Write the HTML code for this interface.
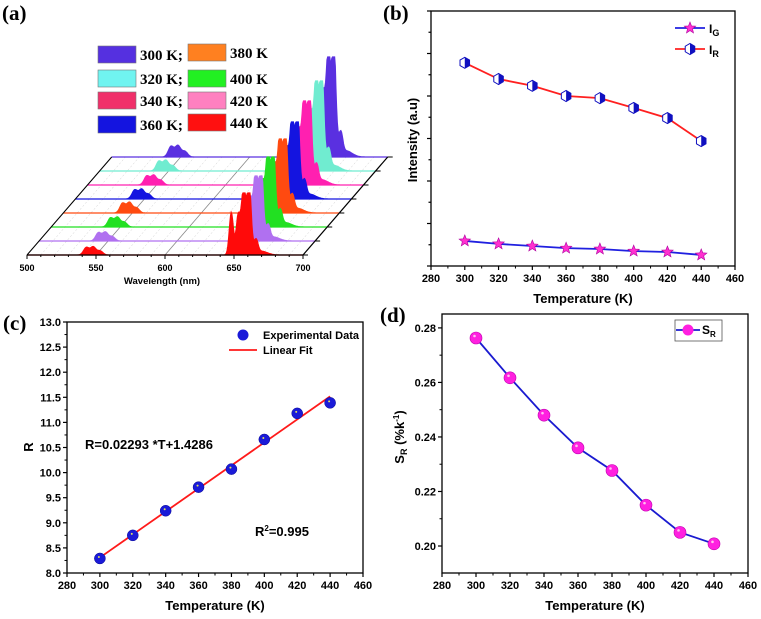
<!DOCTYPE html>
<html><head><meta charset="utf-8"><style>
html,body{margin:0;padding:0;background:#fff}
svg{display:block;font-family:"Liberation Sans",sans-serif}
.tk{font-size:11px;font-weight:bold}
.ttl{font-size:13px;font-weight:bold}
.pl{font-family:"Liberation Serif",serif;font-size:21px;font-weight:bold}
.lg{font-family:"Liberation Serif",serif;font-size:15px;font-weight:bold}
</style></head><body>
<svg id="fig" width="761" height="619" viewBox="0 0 761 619" xmlns="http://www.w3.org/2000/svg">
<text class="pl" x="2" y="20">(a)</text>
<text class="pl" x="383" y="20">(b)</text>
<text class="pl" x="3" y="330">(c)</text>
<text class="pl" x="380" y="322">(d)</text>
</svg>
<script>
// ---------- data ----------
const temps = [300,320,340,360,380,400,420,440];
const specColors = ['#5a30e0','#70ecd0','#ff20b0','#1414e0','#ff4a10','#22e022','#b070f0','#ff0a0a'];
const legColors = ['#5530e0','#70f4f0','#f0306a','#1414e0','#ff8020','#22f022','#ff80c0','#ff1010'];
const redScale = [1.0,0.9,0.84,0.77,0.74,0.70,0.65,0.62];
const greenScale = [0.14,0.13,0.12,0.12,0.13,0.12,0.11,0.10];
const greenPeaks = [543,548,553]; const greenAmps = [0.75,0.8,0.4];
const redPeaks = [648,653,657,661,666]; const redAmps = [0.66,0.45,0.75,0.95,0.2];
const wlTicks = [500,550,600,650,700];

const Tx = [300,320,340,360,380,400,420,440];
const IR = [4.78,4.40,4.24,4.00,3.95,3.72,3.48,2.94];
const IG = [0.59,0.52,0.47,0.42,0.40,0.35,0.33,0.26];
const Rvals = [8.29,8.75,9.24,9.71,10.07,10.66,11.18,11.39];
const fitSlope = 0.02293, fitIntercept = 1.4286;
const SR = [0.2763,0.2617,0.248,0.236,0.2277,0.215,0.205,0.2008];
const xTicksT = [280,300,320,340,360,380,400,420,440,460];
const rTicks = [8.0,8.5,9.0,9.5,10.0,10.5,11.0,11.5,12.0,12.5,13.0];
const srTicks = [0.20,0.22,0.24,0.26,0.28];

const svg = document.getElementById('fig');
const NS='http://www.w3.org/2000/svg';
function mk(tag, at, parent){const e=document.createElementNS(NS,tag);for(const k in at)e.setAttribute(k,at[k]);(parent||svg).appendChild(e);return e;}
function txt(s, at){const e=mk('text',at);e.textContent=String(s);return e;}
function gauss(w,p,s){return Math.exp(-Math.pow((w-p)/s,2));}

// ---------- panel a ----------
(function(){
  const x0=27, xEnd=303, y0=255, dx=12.1, dy=-14;
  const wx = w => x0 + (w-500)*(xEnd-x0)/200;
  const g = mk('g',{});
  
  
  for(let w=500; w<=700; w+=10){
    const l=mk('line',{x1:wx(w),y1:y0,x2:wx(w)+7*dx,y2:y0+7*dy,stroke:w%50===0?'#888':'#ccc','stroke-width':w%50===0?0.8:0.5,'stroke-dasharray':w%50===0?'':'2,2'},g);
    
    
  }
  for(let i=0;i<temps.length;i++){
    const ox=x0+(7-i)*dx, oy=y0+(7-i)*dy;
    const H=100;
    let pts=[];
    for(let w=500; w<=700; w+=0.5){
      let v=0;
      greenPeaks.forEach((p,k)=>{v+=greenScale[i]*greenAmps[k]*gauss(w,p,2.8);});
      redPeaks.forEach((p,k)=>{v+=redScale[i]*redAmps[k]*gauss(w,p,2.0);});
      v+=redScale[i]*0.35*gauss(w,657,5.5);
      v+=redScale[i]*0.06*gauss(w,670,6);
      v=Math.min(v, redScale[i]*1.0);
      pts.push([ox+(w-500)*(xEnd-x0)/200, oy - v*H]);
    }
    let d='M'+ox+','+oy+' '+pts.map(p=>'L'+p[0].toFixed(1)+','+p[1].toFixed(1)).join(' ')+' L'+(ox+xEnd-x0)+','+oy+'Z';
    const s=mk('path',{d:d,fill:specColors[i],stroke:specColors[i],'stroke-width':1.2},g);
    
    
  }
  mk('line',{x1:x0,y1:y0,x2:xEnd,y2:y0,stroke:'#000','stroke-width':1.2},g);
  mk('line',{x1:x0,y1:y0,x2:x0+7*dx,y2:y0+7*dy,stroke:'#000','stroke-width':1},g);
  mk('line',{x1:xEnd,y1:y0,x2:xEnd+7*dx,y2:y0+7*dy,stroke:'#000','stroke-width':1.2},g);
  for(let i=0;i<8;i++){mk('line',{x1:xEnd+i*dx,y1:y0+i*dy,x2:xEnd+i*dx+5,y2:y0+i*dy,stroke:'#000'},g);}
  for(let w=500; w<=700; w+=10){mk('line',{x1:wx(w),y1:y0,x2:wx(w),y2:y0+(w%50===0?4:2),stroke:'#000'},g);}
  wlTicks.forEach(w=>{const t=txt(w,{x:wx(w),y:y0+16,'text-anchor':'middle',style:'font-size:9px;font-weight:bold'});
    });
  const xt=txt('Wavelength (nm)',{x:162,y:284,'text-anchor':'middle',style:'font-size:9.5px;font-weight:bold'});
  
  const pos=[[98,46],[98,70],[98,92],[98,116],[188,44],[188,70],[188,92],[188,114]];
  for(let i=0;i<8;i++){
    const r=mk('rect',{x:pos[i][0],y:pos[i][1],width:38,height:17,fill:legColors[i],stroke:'#777','stroke-width':0.6});
    
    const t=txt(temps[i]+' K'+(i<4?';':''),{class:'lg',x:pos[i][0]+42,y:pos[i][1]+14});
    
  }
})();

function axes(o){
  const L=o.L,R=o.R,T=o.T,B=o.B,xmin=o.xmin,xmax=o.xmax,ymin=o.ymin,ymax=o.ymax;
  const sx=v=>L+(v-xmin)*(R-L)/(xmax-xmin), sy=v=>B-(v-ymin)*(B-T)/(ymax-ymin);
  const f=mk('rect',{x:L,y:T,width:R-L,height:B-T,fill:'none',stroke:'#000','stroke-width':1.3});
  
  xTicksT.forEach(v=>{mk('line',{x1:sx(v),y1:B,x2:sx(v),y2:B+4,stroke:'#000','stroke-width':1.2});
    if(v<460) mk('line',{x1:sx(v+10),y1:B,x2:sx(v+10),y2:B+2.5,stroke:'#000'});
    const t=txt(v,{class:'tk',x:sx(v),y:B+16,'text-anchor':'middle'});
    });
  const xt=txt('Temperature (K)',{class:'ttl',x:(L+R)/2,y:B+37,'text-anchor':'middle'});
  
  return {sx:sx,sy:sy};
}

// ---------- panel b ----------
(function(){
  const ax=axes({name:'panel-b',L:431,R:735,T:11,B:266,xmin:280,xmax:460,ymin:0,ymax:6});
  const sx=ax.sx, sy=ax.sy;
  for(let k=0;k<=12;k++){const v=k/2;mk('line',{x1:431,y1:sy(v),x2:431-(k%2===0?4:2.5),y2:sy(v),stroke:'#000','stroke-width':1.2});}
  const yt=txt('Intensity (a.u)',{class:'ttl',x:0,y:0,transform:'translate(417,140) rotate(-90)','text-anchor':'middle'});
  
  const lr=mk('polyline',{points:Tx.map((t,i)=>sx(t)+','+sy(IR[i])).join(' '),fill:'none',stroke:'#ff2020','stroke-width':1.8});
  
  const lg=mk('polyline',{points:Tx.map((t,i)=>sx(t)+','+sy(IG[i])).join(' '),fill:'none',stroke:'#2020e0','stroke-width':1.8});
  
  function hex(cx,cy,nm){const g=mk('g',{});
    let p=[];for(let k=0;k<6;k++){const a=Math.PI/3*k+Math.PI/6;p.push((cx+5.5*Math.cos(a))+','+(cy+5.5*Math.sin(a)));}
    mk('polygon',{points:p.join(' '),fill:'#fff',stroke:'#1010c0','stroke-width':1},g);
    mk('path',{d:'M'+cx+','+(cy-5.5)+' L'+(cx+4.8)+','+(cy-2.75)+' L'+(cx+4.8)+','+(cy+2.75)+' L'+cx+','+(cy+5.5)+'Z',fill:'#1010c0'},g);}
  function star(cx,cy,nm){let p=[];for(let k=0;k<10;k++){const r=k%2?2.6:6,a=-Math.PI/2+k*Math.PI/5;p.push((cx+r*Math.cos(a)).toFixed(1)+','+(cy+r*Math.sin(a)).toFixed(1));}
    const s=mk('polygon',{points:p.join(' '),fill:'#ff30d0',stroke:'#b000a0','stroke-width':0.6});}
  Tx.forEach((t,i)=>{hex(sx(t),sy(IR[i]),'ir-point');star(sx(t),sy(IG[i]),'ig-point');});
  mk('line',{x1:675,y1:28,x2:705,y2:28,stroke:'#2020e0','stroke-width':1.8});star(690,28,'legend-ig-marker');
  mk('line',{x1:675,y1:49,x2:705,y2:49,stroke:'#ff2020','stroke-width':1.8});hex(690,49,'legend-ir-marker');
  const a=txt('',{class:'tk',x:709,y:33,style:'font-size:12px'});a.innerHTML='I<tspan dy="3" style="font-size:9px">G</tspan>';
  
  const b=txt('',{class:'tk',x:709,y:54,style:'font-size:12px'});b.innerHTML='I<tspan dy="3" style="font-size:9px">R</tspan>';
  
})();

// ---------- panel c ----------
(function(){
  const ax=axes({name:'panel-c',L:67,R:363,T:322,B:573,xmin:280,xmax:460,ymin:8,ymax:13});
  const sx=ax.sx, sy=ax.sy;
  rTicks.forEach(v=>{mk('line',{x1:67,y1:sy(v),x2:63,y2:sy(v),stroke:'#000','stroke-width':1.2});
    if(v<13) mk('line',{x1:67,y1:sy(v+0.25),x2:64.5,y2:sy(v+0.25),stroke:'#000'});
    const t=txt(v.toFixed(1),{class:'tk',x:61,y:sy(v)+4,'text-anchor':'end'});
    });
  const yt=txt('R',{class:'ttl',x:0,y:0,transform:'translate(33,447) rotate(-90)','text-anchor':'middle'});
  
  const fl=mk('line',{x1:sx(300),y1:sy(fitSlope*300+fitIntercept),x2:sx(440),y2:sy(fitSlope*440+fitIntercept),stroke:'#ff1a1a','stroke-width':1.8});
  
  Tx.forEach((t,i)=>{const c=mk('circle',{cx:sx(t),cy:sy(Rvals[i]),r:5.5,fill:'#1a1ad8',stroke:'#0a0a90','stroke-width':0.5});
    
    mk('circle',{cx:sx(t)-1,cy:sy(Rvals[i])-1.5,r:1,fill:'#e0e060'});});
  mk('circle',{cx:243,cy:335,r:5.5,fill:'#1a1ad8'});
  mk('line',{x1:229,y1:350,x2:257,y2:350,stroke:'#ff1a1a','stroke-width':1.8});
  const l1=txt('Experimental Data',{class:'tk',x:263,y:339});
  const l2=txt('Linear Fit',{class:'tk',x:263,y:354});
  const eq=txt('R=0.02293 *T+1.4286',{x:85,y:449,style:'font-size:13px;font-weight:bold'});
  const r2=txt('',{x:255,y:536,style:'font-size:13px;font-weight:bold'});r2.innerHTML='R<tspan dy="-5" style="font-size:8px">2</tspan><tspan dy="5">=0.995</tspan>';
  
})();

// ---------- panel d ----------
(function(){
  const ax=axes({name:'panel-d',L:442,R:748,T:314,B:573,xmin:280,xmax:460,ymin:0.1901,ymax:0.2851});
  const sx=ax.sx, sy=ax.sy;
  srTicks.forEach(v=>{mk('line',{x1:442,y1:sy(v),x2:438,y2:sy(v),stroke:'#000','stroke-width':1.2});
    if(v<0.27) mk('line',{x1:442,y1:sy(v+0.01),x2:439.5,y2:sy(v+0.01),stroke:'#000'});
    const t=txt(v.toFixed(2),{class:'tk',x:436,y:sy(v)+4,'text-anchor':'end'});
    });
  const yt=txt('',{class:'ttl',x:0,y:0,transform:'translate(404,437) rotate(-90)','text-anchor':'middle'});
  yt.innerHTML='S<tspan dy="3" style="font-size:9px">R</tspan><tspan dy="-3"> (%k</tspan><tspan dy="-5" style="font-size:8px">-1</tspan><tspan dy="5">)</tspan>';
  
  const pts=Tx.map((t,i)=>[sx(t),sy(SR[i])]);
  const ln=mk('polyline',{points:pts.map(p=>p.join(',')).join(' '),fill:'none',stroke:'#1a1ad0','stroke-width':1.8});
  
  pts.forEach(p=>{const c=mk('circle',{cx:p[0],cy:p[1],r:6,fill:'#ff20e0',stroke:'#c000b0','stroke-width':0.6});
    
    mk('circle',{cx:p[0]-1.5,cy:p[1]-2,r:1.3,fill:'#ffc0f0'});});
  const lb=mk('rect',{x:675,y:320,width:47,height:21,fill:'#fff',stroke:'#555','stroke-width':0.8});
  
  mk('line',{x1:676,y1:330,x2:700,y2:330,stroke:'#1a1ad0','stroke-width':1.8});
  mk('circle',{cx:688,cy:330,r:5.5,fill:'#ff20e0'});
  const lt=txt('',{class:'tk',x:702,y:334,style:'font-size:12px'});lt.innerHTML='S<tspan dy="3" style="font-size:8px">R</tspan>';
  
})();
</script>
</body></html>
